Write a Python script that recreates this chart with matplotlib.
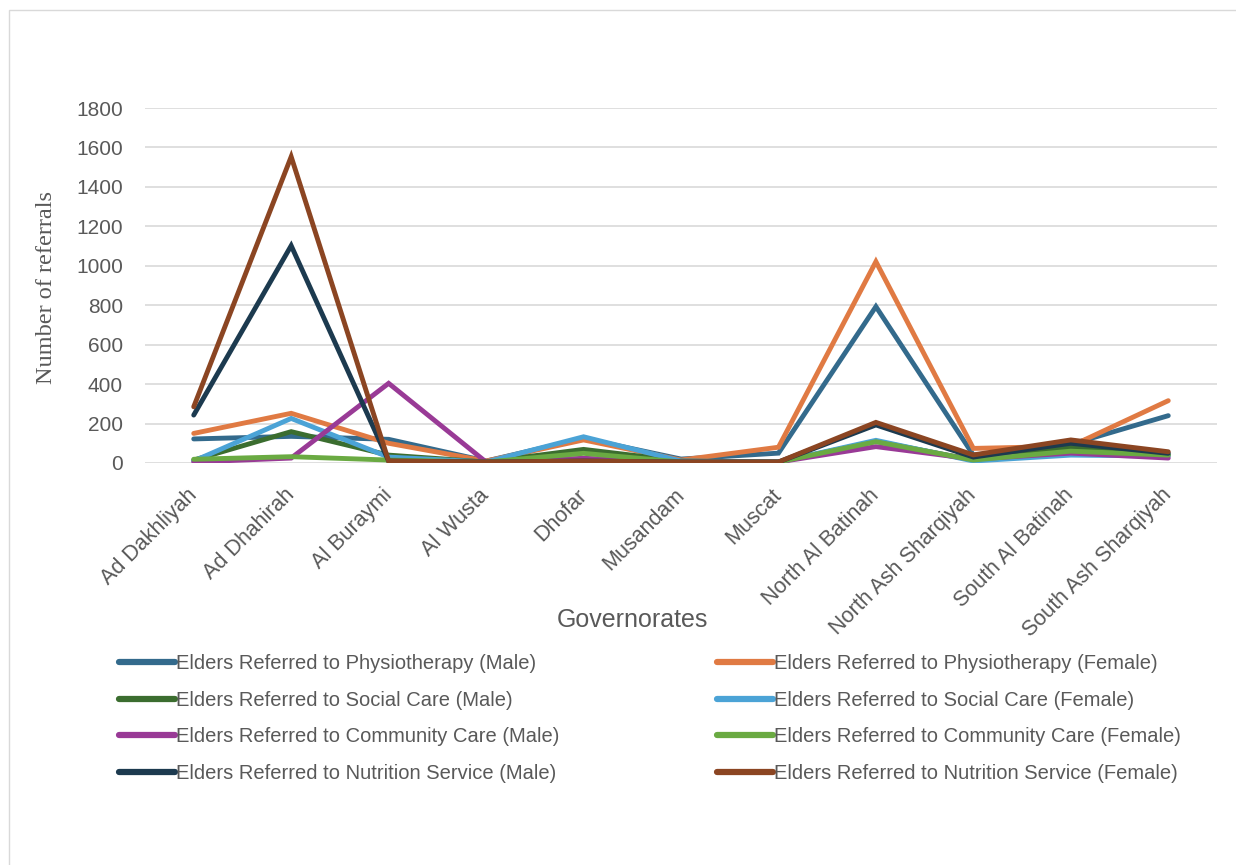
import matplotlib
matplotlib.use("Agg")
import matplotlib.pyplot as plt
from matplotlib.patches import Rectangle

governorates = ["Ad Dakhliyah", "Ad Dhahirah", "Al Buraymi", "Al Wusta", "Dhofar",
                "Musandam", "Muscat", "North Al Batinah", "North Ash Sharqiyah",
                "South Al Batinah", "South Ash Sharqiyah"]

physio_male = [122, 135, 120, 10, 125, 20, 50, 793, 40, 95, 240]
physio_female = [150, 252, 100, 10, 117, 15, 80, 1021, 74, 85, 316]
social_male = [15, 159, 40, 5, 69, 10, 5, 110, 15, 80, 40]
social_female = [10, 226, 30, 5, 133, 10, 5, 115, 10, 40, 35]
community_male = [5, 25, 404, 5, 24, 5, 5, 83, 20, 50, 25]
community_female = [19, 32, 15, 5, 49, 5, 5, 108, 15, 60, 40]
nutrition_male = [243, 1102, 10, 5, 10, 5, 5, 193, 30, 100, 49]
nutrition_female = [285, 1553, 10, 5, 10, 5, 5, 206, 41, 117, 57]

series = [
    ("Elders Referred to Physiotherapy (Male)", physio_male, "#336a8c"),
    ("Elders Referred to Physiotherapy (Female)", physio_female, "#e07a43"),
    ("Elders Referred to Social Care (Male)", social_male, "#3b6d2f"),
    ("Elders Referred to Social Care (Female)", social_female, "#4ba3d6"),
    ("Elders Referred to Community Care (Male)", community_male, "#993a96"),
    ("Elders Referred to Community Care (Female)", community_female, "#6aaa42"),
    ("Elders Referred to Nutrition Service (Male)", nutrition_male, "#1c3a4f"),
    ("Elders Referred to Nutrition Service (Female)", nutrition_female, "#8b4522"),
]

plt.rcParams["font.family"] = ["Liberation Sans", "DejaVu Sans"]
GREY = "#595959"
W, H = 1236, 865

fig = plt.figure(figsize=(W / 100, H / 100), dpi=100)
ax = fig.add_axes([145 / W, 1 - 463 / H, (1217 - 145) / W, (463 - 108) / H])

x = list(range(len(governorates)))
handles = {}
for label, vals, color in series:
    ln, = ax.plot(x, vals, color=color, lw=3.5, solid_capstyle="round",
                  solid_joinstyle="miter", label=label)
    handles[label] = ln

ax.set_xlim(-0.5, len(governorates) - 0.5)
ax.set_ylim(0, 1800)
ax.set_yticks(range(0, 1801, 200))
ax.grid(axis="y", color="#d9d9d9", lw=1.2)
ax.set_axisbelow(True)
for s in ax.spines.values():
    s.set_visible(False)
ax.tick_params(axis="y", length=0, labelsize=15, colors=GREY, pad=16)
ax.tick_params(axis="x", length=0, labelsize=15.5, colors=GREY, pad=21)
ax.set_xticks(x)
ax.set_xticklabels(governorates, rotation=45, ha="right", va="center",
                   rotation_mode="anchor")

fig.text(632 / W, 1 - 620 / H, "Governorates", fontsize=18, color=GREY,
         ha="center", va="center")
fig.text(47 / W, 1 - 287 / H, "Number of referrals", fontsize=17.5, color=GREY,
         family=["Liberation Serif", "DejaVu Serif"], rotation=90,
         ha="center", va="center")

labels = [s[0] for s in series]
for col, x0 in ((labels[0::2], 119), (labels[1::2], 717)):
    fig.legend([handles[l] for l in col], col, loc="upper left",
               bbox_to_anchor=(x0 / W, 1 - 654 / H), frameon=False,
               fontsize=14.5, labelcolor=GREY, handlelength=2.8,
               handletextpad=0.05, labelspacing=0.88, borderaxespad=0,
               borderpad=0)
for lg in fig.legends:
    for h in lg.legend_handles:
        h.set_linewidth(4.5)

fig.patches.append(Rectangle((9 / W, -0.01), 1.1, 1 - 10 / H + 0.01,
                             transform=fig.transFigure, fill=False,
                             edgecolor="#d9d9d9", lw=1))

fig.savefig("out.png", dpi=100)
